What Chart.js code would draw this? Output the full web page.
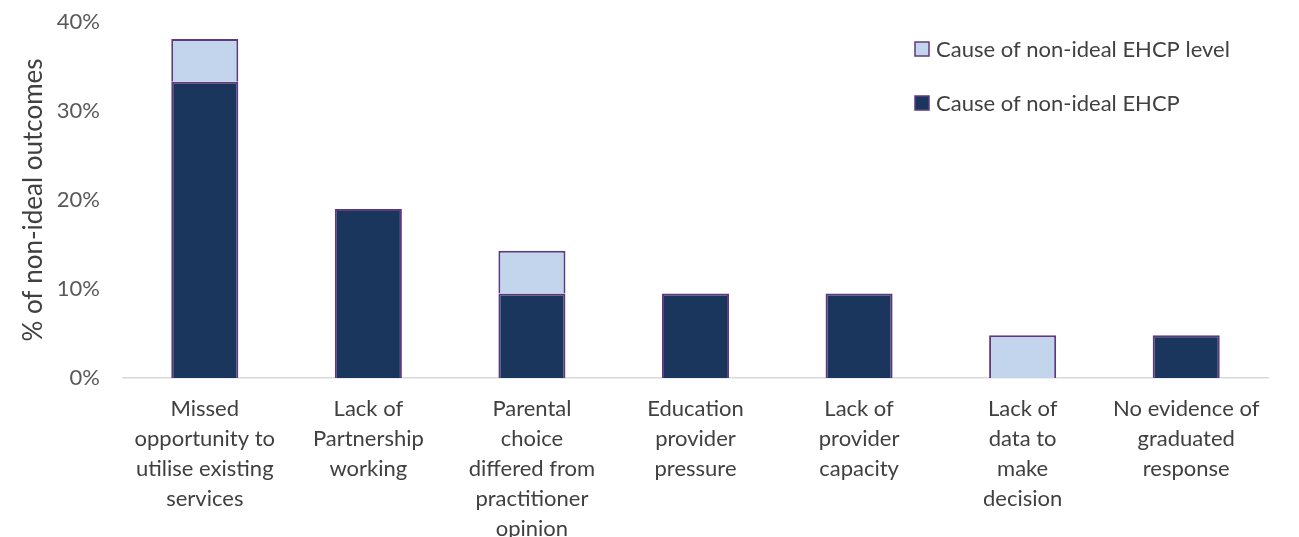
<!DOCTYPE html>
<html>
<head>
<meta charset="utf-8">
<script src="https://cdn.jsdelivr.net/npm/chart.js@4"></script>
<style>
  html, body { margin: 0; padding: 0; background: #ffffff; }
  #wrap { width: 1299px; height: 537px; position: relative; }
</style>
</head>
<body>
<div id="wrap"><canvas id="causesChart"></canvas></div>
<script>
// Categories (multi-line labels) and the two stacked series, in %
const categories = [
  ["Missed", "opportunity to", "utilise existing", "services"],
  ["Lack of", "Partnership", "working"],
  ["Parental", "choice", "differed from", "practitioner", "opinion"],
  ["Education", "provider", "pressure"],
  ["Lack of", "provider", "capacity"],
  ["Lack of", "data to", "make", "decision"],
  ["No evidence of", "graduated", "response"]
];
const ehcpValues = [33.3, 19.0, 9.5, 9.5, 9.5, null, 4.8];
const ehcpLevelValues = [4.8, null, 4.8, null, null, 4.8, null];
const yTicks = [0, 10, 20, 30, 40];

const FONT = "Lato, 'Open Sans', sans-serif";
const TEXT = "#404040";
const EDGE = "#5d3a7f";

// legend drawn inside the plot, top right, light series first
const cornerLegend = {
  id: "cornerLegend",
  afterDraw(chart) {
    const ctx = chart.ctx;
    const items = chart.data.datasets.slice().reverse();
    ctx.save();
    ctx.font = "22px " + FONT;
    ctx.textBaseline = "middle";
    items.forEach(function (ds, i) {
      const y = 49 + i * 54;
      ctx.fillStyle = ds.backgroundColor;
      ctx.fillRect(915, y - 7, 14, 14);
      ctx.strokeStyle = EDGE;
      ctx.lineWidth = 1.5;
      ctx.strokeRect(915, y - 7, 14, 14);
      ctx.fillStyle = TEXT;
      ctx.fillText(ds.label, 936, y + 1);
    });
    ctx.restore();
  }
};

const ctx = document.getElementById("causesChart").getContext("2d");
new Chart(ctx, {
  type: "bar",
  data: {
    labels: categories,
    datasets: [
      {
        label: "Cause of non-ideal EHCP",
        data: ehcpValues,
        backgroundColor: "#1b365d",
        borderColor: EDGE,
        borderWidth: 2
      },
      {
        label: "Cause of non-ideal EHCP level",
        data: ehcpLevelValues,
        backgroundColor: "#c2d5ec",
        borderColor: EDGE,
        borderWidth: 2
      }
    ]
  },
  options: {
    responsive: true,
    maintainAspectRatio: false,
    animation: false,
    layout: { padding: { top: 22, right: 31, left: 0, bottom: 0 } },
    datasets: {
      bar: { categoryPercentage: 1, barPercentage: 0.41 }
    },
    plugins: {
      legend: { display: false },
      tooltip: { enabled: false }
    },
    scales: {
      x: {
        stacked: true,
        grid: { display: false, drawTicks: false },
        border: { display: true, color: "#d9d9d9", width: 1.5 },
        ticks: {
          color: TEXT,
          font: { family: FONT, size: 22, lineHeight: 1.36 },
          padding: 16,
          maxRotation: 0,
          autoSkip: false
        },
        afterFit: function (scale) { scale.height = 159; }
      },
      y: {
        stacked: true,
        min: 0,
        max: 40,
        afterBuildTicks: function (scale) {
          scale.ticks = yTicks.map(function (v) { return { value: v }; });
        },
        grid: { display: false, drawTicks: false },
        border: { display: false },
        ticks: {
          color: "#595959",
          font: { family: FONT, size: 22 },
          padding: 23,
          callback: function (v) { return v + "%"; }
        },
        title: {
          display: true,
          text: "% of non-ideal outcomes",
          color: TEXT,
          font: { family: FONT, size: 26 },
          padding: { top: 18, bottom: 0 }
        },
        afterFit: function (scale) {
          // fixed gutter; top label may sit in the layout padding
          scale.width = 123;
          scale.paddingTop = 0;
          scale.paddingBottom = 0;
        }
      }
    }
  },
  plugins: [cornerLegend]
});
</script>
</body>
</html>
